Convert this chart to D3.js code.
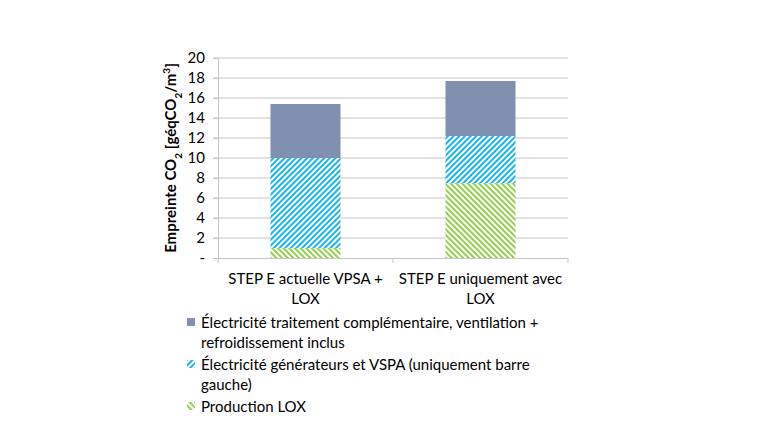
<!DOCTYPE html>
<html>
<head>
<meta charset="utf-8">
<script src="https://cdn.jsdelivr.net/npm/d3@7"></script>
<style>
  body { margin: 0; background: #fff; }
  #chart { width: 760px; height: 440px; }
  text { font-family: Lato, "Open Sans", sans-serif; fill: #000; }
</style>
</head>
<body>
<div id="chart"></div>
<script>
const categories = [["STEP E actuelle VPSA +", "LOX"], ["STEP E uniquement avec", "LOX"]];
const seriesNames = [
  ["Production LOX"],
  ["Électricité générateurs et VSPA (uniquement barre", "gauche)"],
  ["Électricité traitement complémentaire, ventilation +", "refroidissement inclus"]
];
const productionLox = [1.0, 7.5];
const elecGenerateurs = [9.0, 4.7];
const elecTraitement = [5.4, 5.5];
const yTicks = [0, 2, 4, 6, 8, 10, 12, 14, 16, 18, 20];

const width = 760, height = 440;
const margin = {top: 58, left: 218, right: 192, bottom: 182};

const svg = d3.select("#chart").append("svg")
  .attr("width", width).attr("height", height);

const defs = svg.append("defs");
function hatch(id, color, dir) {
  const p = defs.append("pattern").attr("id", id)
    .attr("patternUnits", "userSpaceOnUse")
    .attr("width", 4).attr("height", 4)
    .attr("patternTransform", "rotate(" + dir + ")");
  p.append("rect").attr("width", 4).attr("height", 4).attr("fill", "#fff");
  p.append("rect").attr("width", 2).attr("height", 4).attr("fill", color);
}
hatch("hGreen", "#92d050", -45);
hatch("hBlue", "#1ab4ec", 45);

const fills = ["url(#hGreen)", "url(#hBlue)", "#8090b0"];
const legendFills = fills.slice();

const rows = categories.map((c, i) => ({
  i: i, s0: productionLox[i], s1: elecGenerateurs[i], s2: elecTraitement[i]
}));
const stacked = d3.stack().keys(["s0", "s1", "s2"])(rows);

const x = d3.scaleBand().domain(d3.range(categories.length))
  .range([margin.left, width - margin.right]).paddingInner(0.6).paddingOuter(0.3);
const y = d3.scaleLinear().domain([0, 20]).range([height - margin.bottom, margin.top]);

// grid
svg.append("g").selectAll("line").data(yTicks.slice(1)).join("line")
  .attr("x1", margin.left - 5).attr("x2", width - margin.right)
  .attr("y1", d => y(d)).attr("y2", d => y(d))
  .attr("stroke", "#c6c6c6").attr("stroke-width", 1);

// y axis
const yAxis = svg.append("g").attr("transform", `translate(${margin.left},0)`)
  .call(d3.axisLeft(y).tickValues(yTicks).tickSize(5).tickPadding(8)
    .tickFormat(d => d === 0 ? "-" : d));
yAxis.select(".domain").attr("stroke", "#c6c6c6");
yAxis.selectAll(".tick line").attr("stroke", "#c6c6c6");
yAxis.selectAll("text").style("font-size", "15px");

// bars
svg.append("g").selectAll("g").data(stacked).join("g")
  .attr("fill", (d, k) => fills[k])
  .selectAll("rect").data(d => d).join("rect")
  .attr("x", d => x(d.data.i))
  .attr("width", x.bandwidth())
  .attr("y", d => y(d[1]))
  .attr("height", d => y(d[0]) - y(d[1]));

// x axis
const x0 = margin.left, x1 = width - margin.right, yb = y(0);
const step = (x1 - x0) / categories.length;
const xg = svg.append("g");
xg.append("line").attr("x1", x0).attr("x2", x1).attr("y1", yb + 0.5).attr("y2", yb + 0.5)
  .attr("stroke", "#c6c6c6");
xg.selectAll(".t").data(d3.range(categories.length + 1)).join("line")
  .attr("x1", d => x0 + d * step).attr("x2", d => x0 + d * step)
  .attr("y1", yb).attr("y2", yb + 5).attr("stroke", "#c6c6c6");
xg.selectAll("text").data(categories).join("text")
  .attr("text-anchor", "middle")
  .attr("x", (d, i) => x(i) + x.bandwidth() / 2)
  .attr("y", yb + 26)
  .style("font-size", "15px")
  .selectAll("tspan").data(d => d).join("tspan")
  .attr("x", function() { return this.parentNode.getAttribute("x"); })
  .attr("dy", (d, j) => j === 0 ? 0 : 20)
  .text(d => d);

// y label
const yl = svg.append("text")
  .attr("transform", `translate(176,${(y(0) + y(20)) / 2}) rotate(-90)`)
  .attr("text-anchor", "middle")
  .style("font-size", "15px").style("font-weight", "bold");
yl.append("tspan").text("Empreinte CO");
yl.append("tspan").text("2").attr("baseline-shift", "sub").style("font-size", "10px");
yl.append("tspan").text(" [géqCO");
yl.append("tspan").text("2").attr("baseline-shift", "sub").style("font-size", "10px");
yl.append("tspan").text("/m");
yl.append("tspan").text("3").attr("baseline-shift", "super").style("font-size", "10px");
yl.append("tspan").text("]");

// legend (reverse order, top is last series)
const legendOrder = [2, 1, 0];
const legendY = [328, 370, 412];
const lg = svg.append("g").selectAll("g").data(legendOrder).join("g")
  .attr("transform", (d, k) => `translate(0,${legendY[k]})`);
lg.append("rect").attr("x", 187).attr("y", -10).attr("width", 8).attr("height", 8)
  .attr("fill", d => legendFills[d]);
lg.append("text").attr("x", 201).attr("y", 0).style("font-size", "15px")
  .selectAll("tspan").data(d => seriesNames[d]).join("tspan")
  .attr("x", 201).attr("dy", (d, j) => j === 0 ? 0 : 20)
  .text(d => d);
</script>
</body>
</html>
